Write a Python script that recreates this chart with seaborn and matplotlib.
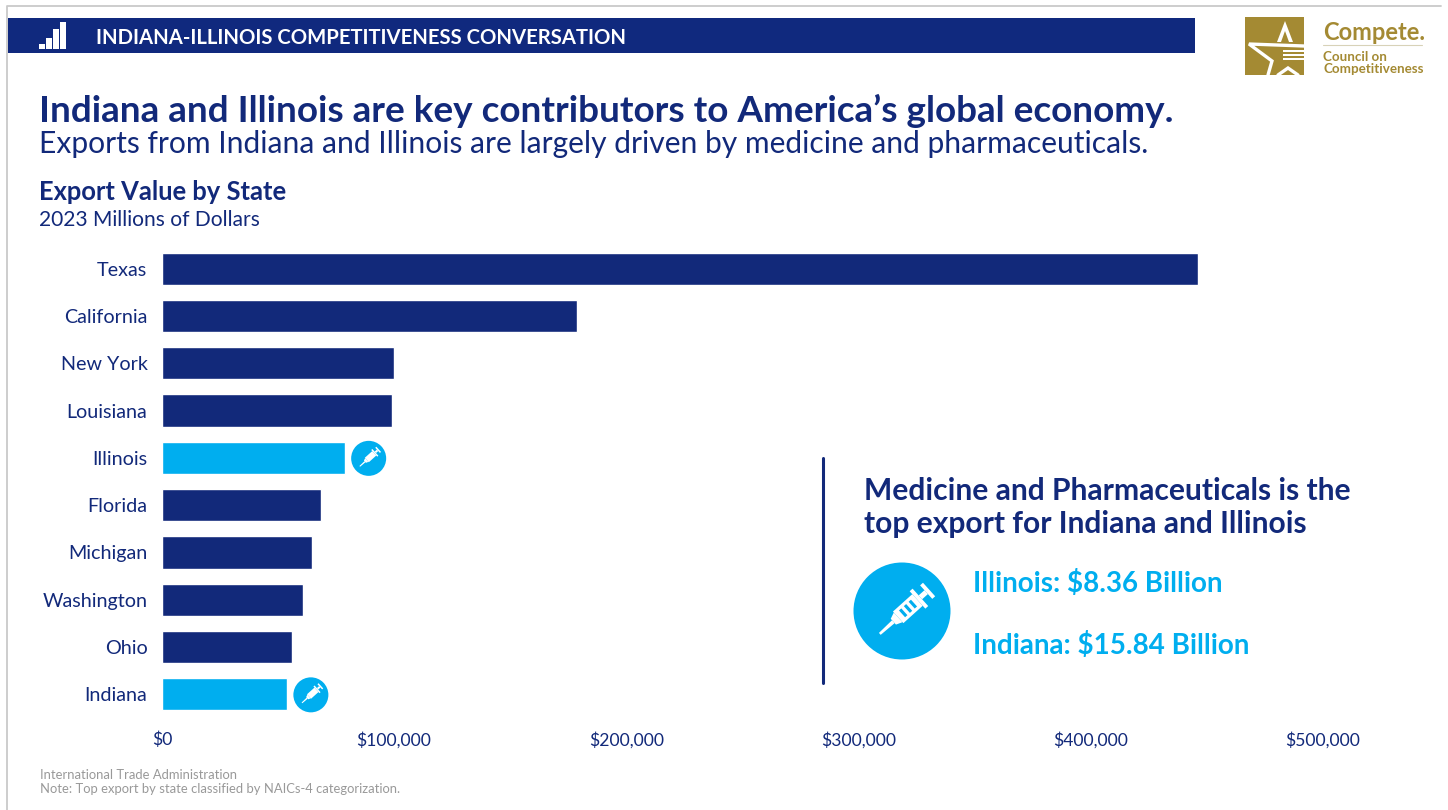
import matplotlib
matplotlib.use("Agg")
import matplotlib.pyplot as plt
from matplotlib.patches import Rectangle, Circle, Polygon
from matplotlib.transforms import Affine2D
import pandas as pd
import seaborn as sns

states = ["Texas", "California", "New York", "Louisiana", "Illinois",
          "Florida", "Michigan", "Washington", "Ohio", "Indiana"]
export_values = [446500, 178600, 99800, 99300, 78700,
                 68700, 64700, 60800, 56100, 53800]
highlighted = ["Illinois", "Indiana"]
x_ticks = [0, 100000, 200000, 300000, 400000, 500000]
x_tick_labels = ["$0", "$100,000", "$200,000", "$300,000", "$400,000", "$500,000"]

NAVY = "#12297a"
SKY = "#00aeef"
GOLD = "#a48a33"
W, H = 1448, 810

sns.set_theme(style="white")
plt.rcParams["font.family"] = ["Lato", "DejaVu Sans"]

fig = plt.figure(figsize=(W / 100, H / 100), dpi=100, facecolor="white")

# Full-slide layer in pixel units for the banner, headings and callout
bg = fig.add_axes([0, 0, 1, 1], zorder=0)
bg.set_xlim(0, W)
bg.set_ylim(H, 0)
bg.axis("off")

# Bar chart axes
left, right = 162, 1322.5
top, bottom = 245, 718
ax = fig.add_axes([left / W, 1 - bottom / H, (right - left) / W, (bottom - top) / H], zorder=1)
ax.patch.set_alpha(0)

df = pd.DataFrame({"state": states, "value": export_values})
palette = {s: (SKY if s in highlighted else NAVY) for s in states}
sns.barplot(data=df, y="state", x="value", hue="state", palette=palette,
            order=states, dodge=False, legend=False, width=0.68, ax=ax, saturation=1)
ax.set_xlim(0, 500000)
ax.set_ylim(9.5, -0.5)
ax.set_xlabel("")
ax.set_ylabel("")
ax.set_xticks(x_ticks, x_tick_labels)
sns.despine(ax=ax, left=True, bottom=True)
ax.tick_params(axis="x", length=0, pad=10, labelsize=12.6, labelcolor=NAVY)
ax.tick_params(axis="y", length=0, pad=10.5, labelsize=14.2, labelcolor=NAVY)

# Slide frame
bg.plot([7, 7, 1441], [810, 5.5, 5.5], color="#c9c9c9", lw=1.3)

# Header banner with a small bar-signal glyph
bg.add_patch(Rectangle((8, 18), 1187, 35, color="#10297e", lw=0))
for gx, gtop in zip((39, 46, 53, 60), (44, 38, 29, 22)):
    bg.add_patch(Rectangle((gx, gtop), 6, 49 - gtop, color="white", lw=0))
bg.text(96, 37.5, "INDIANA-ILLINOIS COMPETITIVENESS CONVERSATION", color="white",
        fontsize=14.6, fontweight="bold", va="center", ha="left")

# Council logo: gold square, spire and outlined star
bg.add_patch(Rectangle((1245, 17), 59, 58, color=GOLD, lw=0))
bg.add_patch(Polygon([(1285, 21), (1277, 42), (1281, 42), (1285, 31), (1289, 42), (1293, 42)],
                     color="white", lw=0))
bg.plot([1304, 1249, 1272, 1268], [46, 44, 61, 75], color="white", lw=2.4, solid_joinstyle="miter")
bg.plot([1278, 1288, 1298], [75, 68, 75], color="white", lw=2.4, solid_joinstyle="miter")
for ly in (50, 54, 58):
    bg.add_patch(Rectangle((1283, ly), 21, 1.8, color="white", lw=0))
bg.text(1323, 32, "Compete.", color=GOLD, fontsize=17, fontweight="bold", va="center")
bg.plot([1323, 1422], [45, 45], color="#d8d2b8", lw=0.8)
bg.text(1323, 57, "Council on", color=GOLD, fontsize=9.6, fontweight="bold", va="center")
bg.text(1323, 69, "Competitiveness", color=GOLD, fontsize=9.6, fontweight="bold", va="center")

# Headline block
bg.text(39, 110.5, "Indiana and Illinois are key contributors to America\u2019s global economy.",
        color=NAVY, fontsize=26.6, fontweight="bold", va="center")
bg.text(39, 144, "Exports from Indiana and Illinois are largely driven by medicine and pharmaceuticals.",
        color=NAVY, fontsize=21.6, va="center")
bg.text(39, 192.5, "Export Value by State", color=NAVY, fontsize=18.4, fontweight="bold", va="center")
bg.text(39, 220, "2023 Millions of Dollars", color=NAVY, fontsize=15.1, va="center")


def syringe(axis, cx, cy, scale, ticks=False, color="white"):
    """Draw a syringe glyph centred on (cx, cy), needle towards the lower left."""
    rot = Affine2D().rotate_deg(-42).scale(scale).translate(cx, cy) + axis.transData
    shapes = [
        [(-24, -1), (-10, -1.5), (-10, 1.5), (-24, 1)],          # needle
        [(-10, -3), (-5, -5), (-5, 5), (-10, 3)],                # hub
        [(-5, -6), (15, -6), (15, 6), (-5, 6)],                  # barrel
        [(15, -9), (18, -9), (18, 9), (15, 9)],                  # flange
        [(18, -2), (24, -2), (24, 2), (18, 2)],                  # plunger rod
        [(24, -7), (27, -7), (27, 7), (24, 7)],                  # plunger cap
    ]
    for pts in shapes:
        axis.add_patch(Polygon(pts, closed=True, color=color, lw=0, transform=rot, zorder=5))
    if ticks:
        for tx in (-1, 4, 9):
            axis.add_patch(Rectangle((tx, -3.5), 2.4, 7, color=SKY, lw=0, transform=rot, zorder=6))


# Round badges placed just past the ends of the highlighted bars
for s in highlighted:
    i = states.index(s)
    px, py = ax.transData.transform((export_values[i], i))
    cx, cy = bg.transData.inverted().transform((px + 24, py))
    bg.add_patch(Circle((cx, cy + 0.5), 17.5, color=SKY, lw=0, zorder=4))
    syringe(bg, cx, cy + 0.5, 0.5)

# Callout on the lower right
bg.plot([822.5, 822.5], [458, 683], color=NAVY, lw=2.2)
bg.text(864, 491, "Medicine and Pharmaceuticals is the", color=NAVY, fontsize=21.6,
        fontweight="bold", va="center")
bg.text(864, 524, "top export for Indiana and Illinois", color=NAVY, fontsize=21.6,
        fontweight="bold", va="center")
bg.add_patch(Circle((902, 611), 48.5, color=SKY, lw=0))
syringe(bg, 903, 613, 1.3, ticks=True)
bg.text(973, 583.5, "Illinois: $8.36 Billion", color=SKY, fontsize=20, fontweight="bold", va="center")
bg.text(973, 645.5, "Indiana: $15.84 Billion", color=SKY, fontsize=20, fontweight="bold", va="center")

# Source notes
bg.text(40, 775, "International Trade Administration", color="#999999", fontsize=9.4, va="center")
bg.text(40, 789, "Note: Top export by state classified by NAICs-4 categorization.", color="#999999",
        fontsize=9.4, va="center")

fig.savefig("out.png", dpi=100)
